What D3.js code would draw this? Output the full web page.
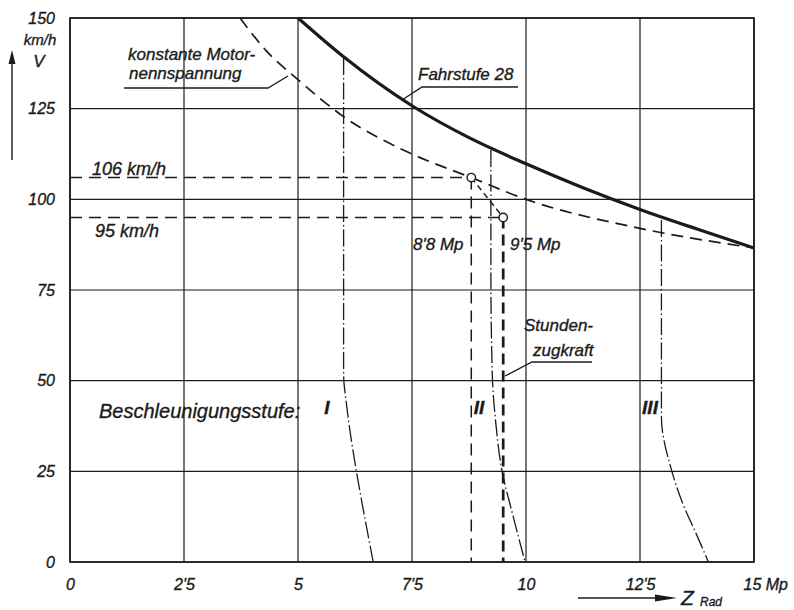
<!DOCTYPE html>
<html><head><meta charset="utf-8">
<script src="https://cdn.jsdelivr.net/npm/d3@7"></script>
<style>
body{margin:0;background:#fff}
text{font-family:"Liberation Sans",Arial,sans-serif;font-style:italic;fill:#1b1b1b;stroke:#1b1b1b;stroke-width:0.35px}
</style>
</head><body>
<svg id="c" width="794" height="610"></svg>
<script>
// ---- data ----
const xTicks=[0,2.5,5,7.5,10,12.5,15];
const xTickLabels=["0","2'5","5","7'5","10","12'5","15 Mp"];
const yTicks=[0,25,50,75,100,125,150];
const yTickLabels=["0","25","50","75","100","125","150"];

const fahrstufeZ=[5,6,7.5,8.75,10,11.25,12.5,13.75,15];
const fahrstufeV=[150,139.3,125.8,117,109.8,103.2,97.2,91.8,86.6];

const nennZ=[3.73,4.3,5,6,7.5,8.8,10,12.5,15];
const nennV=[150,141,133,122.8,112.5,106,100,92,86.6];

const stufeIZ=[6.0,6.0,6.0,6.07,6.25,6.42,6.65];
const stufeIV=[139,100,52,42.8,27.3,15.2,0];
const stufeIIZ=[9.23,9.23,9.26,9.34,9.47,9.72,9.98];
const stufeIIV=[113.6,80,52,38,25.4,12.5,0];
const stufeIIIZ=[12.97,12.97,12.97,13.19,13.41,13.76,14.0];
const stufeIIIV=[94.3,60,40,25.4,17,7,0];

const opZ=[8.8,9.5];
const opV=[106,95];
const opSpeedLabels=["106 km/h","95 km/h"];
const opForceLabels=["8'8 Mp","9'5 Mp"];
const stufeLabels=["I","II","III"];

// ---- setup ----
const svg=d3.select("#c");
const W=794,H=610;
const m={l:70,r:40,t:18,b:48};
const x=d3.scaleLinear().domain([0,15]).range([m.l,W-m.r]);
const y=d3.scaleLinear().domain([0,150]).range([H-m.b,m.t]);
const ink="#1b1b1b";

const g=svg.append("g");
// grid
g.selectAll(".vg").data(xTicks).enter().append("line")
 .attr("x1",d=>x(d)).attr("x2",d=>x(d)).attr("y1",y(0)).attr("y2",y(150))
 .attr("stroke",ink).attr("stroke-width",1.2);
g.selectAll(".hg").data(yTicks).enter().append("line")
 .attr("x1",x(0)).attr("x2",x(15)).attr("y1",d=>y(d)).attr("y2",d=>y(d))
 .attr("stroke",ink).attr("stroke-width",1.2);
g.append("rect").attr("x",x(0)).attr("y",y(150)).attr("width",x(15)-x(0)).attr("height",y(0)-y(150))
 .attr("fill","none").attr("stroke",ink).attr("stroke-width",1.7);

// axes labels via d3 axes
const xa=svg.append("g").attr("transform",`translate(0,${y(0)})`)
 .call(d3.axisBottom(x).tickValues(xTicks).tickSize(0).tickPadding(17).tickFormat((d,i)=>xTickLabels[i]));
xa.select(".domain").remove();
xa.selectAll("text").attr("font-size",16).attr("font-family","Liberation Sans").attr("font-style","italic").attr("fill",ink);
xa.selectAll("text").filter((d,i)=>i===xTickLabels.length-1).attr("text-anchor","start").attr("dx",-11);

const ya=svg.append("g").attr("transform",`translate(${x(0)-15},0)`)
 .call(d3.axisLeft(y).tickValues(yTicks).tickSize(0).tickPadding(0).tickFormat((d,i)=>yTickLabels[i]));
ya.select(".domain").remove();
ya.selectAll("text").attr("font-size",16).attr("font-family","Liberation Sans").attr("font-style","italic").attr("fill",ink);

// units / axis titles
svg.append("text").attr("x",40).attr("y",45).attr("text-anchor","middle").attr("font-size",15).text("km/h");
svg.append("text").attr("x",39).attr("y",67).attr("text-anchor","middle").attr("font-size",17).text("V");
svg.append("line").attr("x1",12).attr("x2",12).attr("y1",160).attr("y2",60).attr("stroke",ink).attr("stroke-width",1.4);
svg.append("path").attr("d","M12,50 L8.5,64 L15.5,64 Z").attr("fill",ink);

svg.append("line").attr("x1",578).attr("x2",665).attr("y1",598).attr("y2",598).attr("stroke",ink).attr("stroke-width",1.4);
svg.append("path").attr("d","M677,598 L655,594.5 L655,601.5 Z").attr("fill",ink);
svg.append("text").attr("x",681).attr("y",605).attr("font-size",21).attr("font-style","normal").text("Z");
svg.append("text").attr("x",700).attr("y",606).attr("font-size",12).text("Rad");

// ---- curves ----
const lineX=d3.line().x(d=>x(d[0])).y(d=>y(d[1])).curve(d3.curveMonotoneX);
const lineY=d3.line().x(d=>x(d[0])).y(d=>y(d[1])).curve(d3.curveMonotoneY);
const zip=(a,b)=>a.map((v,i)=>[v,b[i]]);

g.append("path").datum(zip(nennZ,nennV)).attr("d",lineX)
 .attr("fill","none").attr("stroke",ink).attr("stroke-width",1.7).attr("stroke-dasharray","12,7");
g.append("path").datum(zip(fahrstufeZ,fahrstufeV)).attr("d",lineX)
 .attr("fill","none").attr("stroke",ink).attr("stroke-width",3.2);

[[stufeIZ,stufeIV],[stufeIIZ,stufeIIV],[stufeIIIZ,stufeIIIV]].forEach(([a,b])=>{
  g.append("path").datum(zip(a,b).sort((p,q)=>q[1]-p[1])).attr("d",lineY)
   .attr("fill","none").attr("stroke",ink).attr("stroke-width",1.3).attr("stroke-dasharray","17,3,1.5,3");
});

// operating point construction lines
opZ.forEach((z,i)=>{
  g.append("line").attr("x1",x(0)).attr("x2",x(z)).attr("y1",y(opV[i])).attr("y2",y(opV[i]))
   .attr("stroke",ink).attr("stroke-width",1.5).attr("stroke-dasharray","12,7");
  g.append("line").attr("x1",x(z)).attr("x2",x(z)).attr("y1",y(opV[i])).attr("y2",y(0))
   .attr("stroke",ink).attr("stroke-width",i===1?2.7:1.5).attr("stroke-dasharray",i===1?"11,6":"12,7");
});
g.append("line").attr("x1",x(opZ[0])).attr("y1",y(opV[0])).attr("x2",x(opZ[1])).attr("y2",y(opV[1]))
 .attr("stroke",ink).attr("stroke-width",1.5).attr("stroke-dasharray","6,4");
g.selectAll(".op").data(opZ).enter().append("circle")
 .attr("cx",d=>x(d)).attr("cy",(d,i)=>y(opV[i])).attr("r",4.2)
 .attr("fill","#fff").attr("stroke",ink).attr("stroke-width",1.4);

// ---- annotations ----
const T=(tx,ty,s,fs)=>svg.append("text").attr("x",tx).attr("y",ty).attr("font-size",fs).text(s);
T(128,60,"konstante Motor-",17);
T(129,79,"nennspannung",17);
svg.append("polyline").attr("points","124,88 268,88 288,76").attr("fill","none").attr("stroke",ink).attr("stroke-width",1.3);

T(418,80,"Fahrstufe 28",17);
svg.append("polyline").attr("points","518,87 422,87 402,100").attr("fill","none").attr("stroke",ink).attr("stroke-width",1.3);

T(92,175,opSpeedLabels[0],18);
T(95,237,opSpeedLabels[1],18);
T(413,250,opForceLabels[0],17);
T(510,250,opForceLabels[1],17);

T(524,331,"Stunden-",17);
T(533,356,"zugkraft",17);
svg.append("polyline").attr("points","592,362 532,362 505,376").attr("fill","none").attr("stroke",ink).attr("stroke-width",1.3);

T(99,418,"Beschleunigungsstufe:",20);
const sx=[327,479,650];
stufeLabels.forEach((s,i)=>{
  svg.append("text").attr("x",sx[i]).attr("y",414).attr("text-anchor","middle")
   .attr("font-family","Liberation Serif").attr("font-size",19).attr("font-weight","bold").text(s);
});
</script>
</body></html>
